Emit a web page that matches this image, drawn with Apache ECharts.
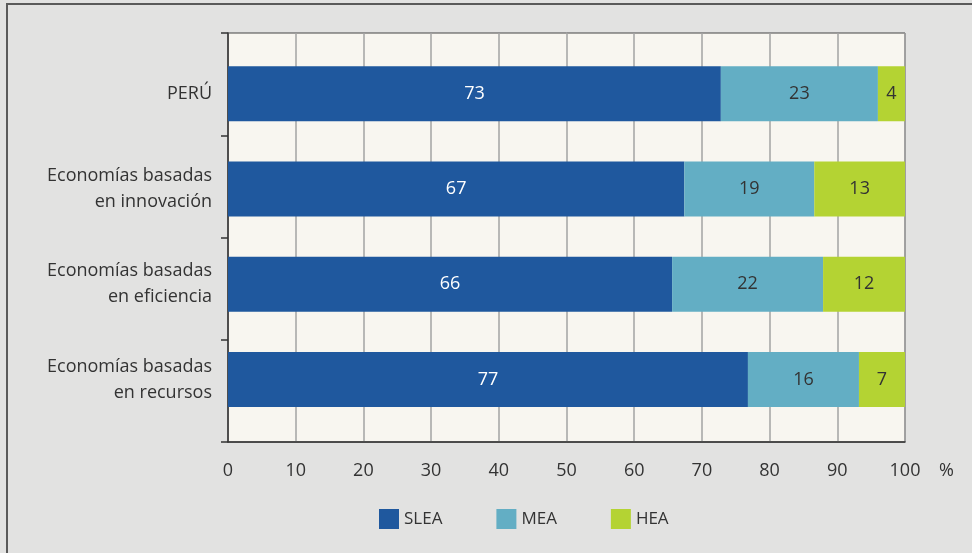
<!DOCTYPE html>
<html>
<head>
<meta charset="utf-8">
<script src="https://cdn.jsdelivr.net/npm/echarts@6/dist/echarts.min.js"></script>
<style>
  html, body { margin: 0; padding: 0; background: #e2e2e1; }
  #chart { width: 972px; height: 553px; }
  #frame { position: absolute; left: 6px; top: 3px; width: 1000px; height: 600px;
           border: 2px solid #5a5a5a; pointer-events: none; }
</style>
</head>
<body>
<div id="chart"></div>
<div id="frame"></div>
<script>
const categories = ['PERÚ', 'Economías basadas\nen innovación', 'Economías basadas\nen eficiencia', 'Economías basadas\nen recursos'];
const slea = [72.8, 67.4, 65.6, 76.8];
const mea = [23.2, 19.2, 22.3, 16.4];
const hea = [4.0, 13.4, 12.1, 6.8];
const xTicks = { min: 0, max: 100, interval: 10 };

const textColor = '#333';
const font = 'Open Sans';

const chart = echarts.init(document.getElementById('chart'));

const barSeries = (name, data, color, labelColor) => ({
    name: name,
    type: 'bar',
    stack: 'total',
    xAxisIndex: 0,
    yAxisIndex: 0,
    barWidth: 55,
    data: data,
    itemStyle: { color: color },
    label: {
        show: true,
        position: 'inside',
        color: labelColor,
        fontFamily: font,
        fontSize: 18,
        formatter: (p) => Math.round(p.value)
    }
});

const option = {
    animation: false,
    textStyle: { fontFamily: font },
    grid: [
        // bars
        { left: 228, right: 67, top: 46, bottom: 126 },
        // frame, gridlines and value axis
        { left: 228, right: 67, top: 33, bottom: 111, show: true,
          backgroundColor: '#f8f6f0', borderColor: '#444', borderWidth: 1 }
    ],
    legend: {
        left: 379,
        top: 509,
        padding: 0,
        itemWidth: 20,
        itemHeight: 20,
        itemGap: 54,
        icon: 'rect',
        textStyle: { color: textColor, fontSize: 17, fontFamily: font, padding: [4, 0, 0, 0] },
        data: ['SLEA', 'MEA', 'HEA']
    },
    xAxis: [
        { gridIndex: 0, type: 'value', min: xTicks.min, max: xTicks.max, show: false },
        {
            gridIndex: 1,
            type: 'value',
            min: xTicks.min,
            max: xTicks.max,
            interval: xTicks.interval,
            name: '%',
            nameLocation: 'end',
            nameGap: 34,
            nameTextStyle: { color: textColor, fontSize: 18, verticalAlign: 'top', padding: [20, 0, 0, 0] },
            axisLine: { show: true, lineStyle: { color: '#333', width: 1.5 } },
            axisTick: { show: false },
            axisLabel: { color: textColor, fontSize: 18, margin: 20 },
            splitLine: { show: true, lineStyle: { color: '#a3a3a3', width: 1.5 } }
        }
    ],
    yAxis: [
        {
            gridIndex: 0,
            type: 'category',
            data: categories,
            inverse: true,
            axisLine: { show: false },
            axisTick: { show: false },
            axisLabel: { color: textColor, fontSize: 18, margin: 16, lineHeight: 26, align: 'right' }
        },
        {
            gridIndex: 1,
            type: 'category',
            data: categories,
            inverse: true,
            axisLine: { show: true, lineStyle: { color: '#333', width: 1.5 } },
            axisTick: {
                show: true,
                length: 7,
                interval: 0,
                lineStyle: { color: '#333', width: 1.5 }
            },
            axisLabel: { show: false }
        }
    ],
    series: [
        barSeries('SLEA', slea, '#1f589e', '#fff'),
        barSeries('MEA', mea, '#63aec4', textColor),
        barSeries('HEA', hea, '#b4d333', textColor)
    ]
};

chart.setOption(option);
</script>
</body>
</html>
